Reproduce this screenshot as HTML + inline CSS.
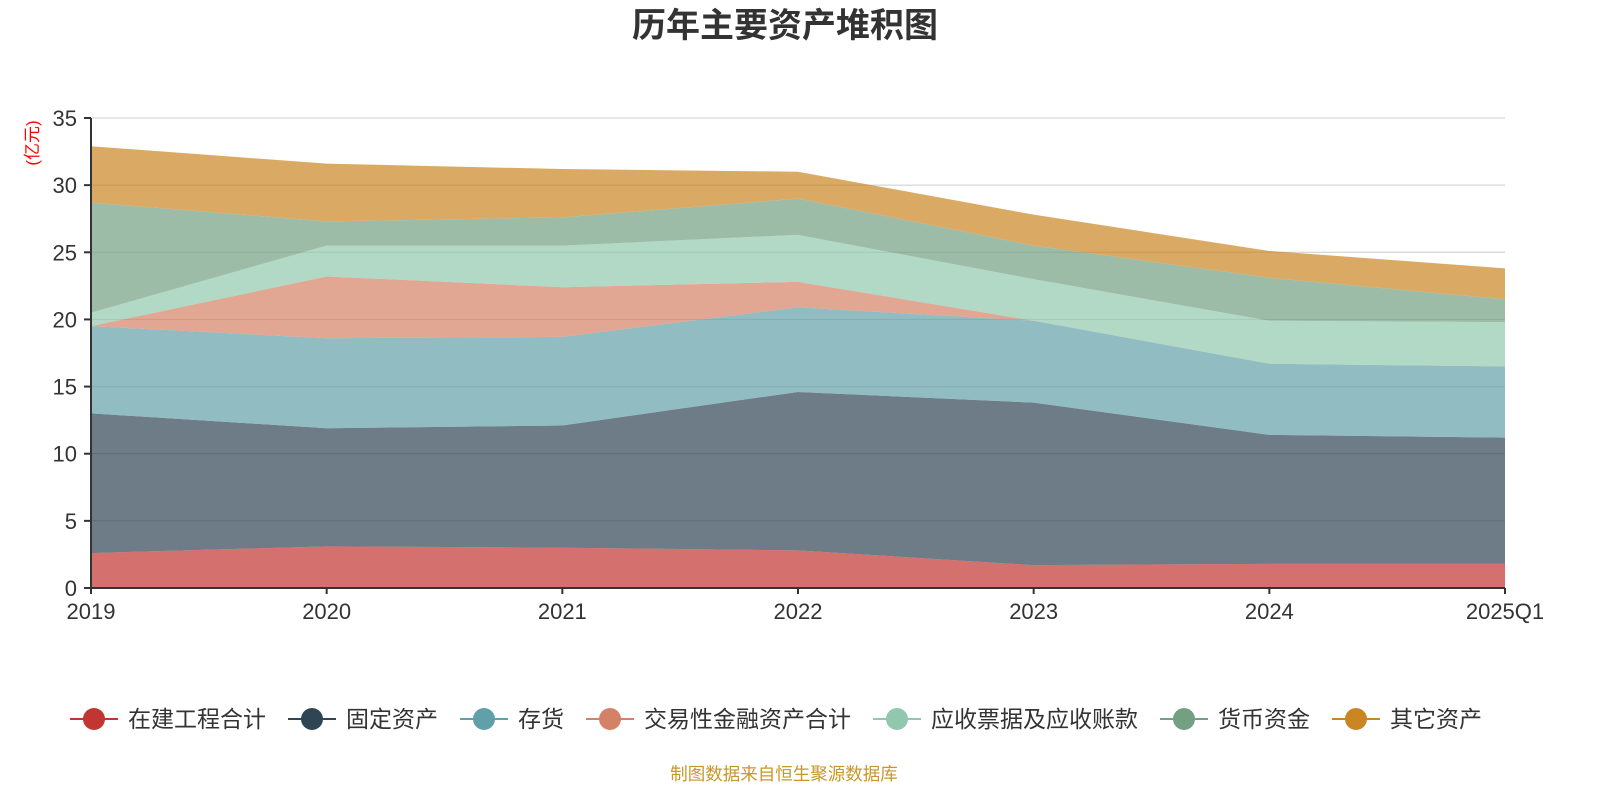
<!DOCTYPE html>
<html><head><meta charset="utf-8"><style>
body{margin:0;background:#fff;font-family:"Liberation Sans","Noto Sans CJK SC",sans-serif;}
svg text{font-family:"Liberation Sans","Noto Sans CJK SC",sans-serif;}
</style></head><body>
<svg id="c" width="1600" height="800" xmlns="http://www.w3.org/2000/svg">
<text x="785" y="37" text-anchor="middle" font-size="34" font-weight="bold" fill="#333">历年主要资产堆积图</text>
<text transform="translate(38,143) rotate(-90)" text-anchor="middle" font-size="17" fill="#ff0000">(亿元)</text>
<g id="grid"></g><g id="areas"></g><g id="axes"></g><g id="legend"></g>
<text x="784" y="780" text-anchor="middle" font-size="17.5" fill="#c8962a">制图数据来自恒生聚源数据库</text>
</svg>
<script>
const categories=["2019","2020","2021","2022","2023","2024","2025Q1"];
const seriesNames=["在建工程合计","固定资产","存货","交易性金融资产合计","应收票据及应收账款","货币资金","其它资产"];
const sConstruction=[2.6,3.1,3.0,2.8,1.7,1.8,1.8];
const sFixed=[10.4,8.8,9.1,11.8,12.1,9.6,9.4];
const sInventory=[6.5,6.7,6.6,6.3,6.1,5.3,5.3];
const sTrading=[0,4.6,3.7,1.9,0,0,0];
const sReceivable=[1.0,2.3,3.1,3.5,3.1,3.2,3.3];
const sCash=[8.2,1.8,2.1,2.7,2.5,3.2,1.7];
const sOther=[4.2,4.3,3.6,2.0,2.3,2.0,2.3];
const yTicks=[0,5,10,15,20,25,30,35];
const series=[sConstruction,sFixed,sInventory,sTrading,sReceivable,sCash,sOther];
const colors=["#c23531","#2f4554","#61a0a8","#d48265","#91c7ae","#749f83","#ca8622"];
const NS="http://www.w3.org/2000/svg";
const X0=91,X1=1505,Y0=588,Y1=118,YMAX=35;
const xs=i=>X0+(X1-X0)*i/(categories.length-1);
const ys=v=>Y0-(Y0-Y1)*v/YMAX;
function mk(t,a,p){const e=document.createElementNS(NS,t);for(const k in a)e.setAttribute(k,a[k]);p.appendChild(e);return e;}
const grid=document.getElementById('grid'),axes=document.getElementById('axes'),areas=document.getElementById('areas'),legend=document.getElementById('legend');
yTicks.forEach(t=>{
 if(t>0){const l=mk('line',{x1:X0,x2:X1,y1:ys(t),y2:ys(t),stroke:'#ccc'},grid);
 
 }
 mk('line',{x1:X0-7,x2:X0,y1:ys(t),y2:ys(t),stroke:'#333','stroke-width':2},axes);
 const tx=mk('text',{x:X0-14,y:ys(t)+8,'text-anchor':'end','font-size':22,fill:'#333'},axes);tx.textContent=t;
 
 
});
let base=categories.map(()=>0);
series.forEach((s,k)=>{
 const top=base.map((b,i)=>b+s[i]);
 let d='M'+top.map((v,i)=>xs(i)+','+ys(v)).join('L');
 for(let i=categories.length-1;i>=0;i--)d+='L'+xs(i)+','+ys(base[i]);
 const p=mk('path',{d:d+'Z',fill:colors[k],'fill-opacity':0.7},areas);
 
 
 base=top;
});
mk('line',{x1:X0,x2:X0,y1:Y1,y2:Y0,stroke:'#333','stroke-width':2},axes);
mk('line',{x1:X0,x2:X1,y1:Y0,y2:Y0,stroke:'#333','stroke-width':2},axes);
categories.forEach((c,i)=>{
 mk('line',{x1:xs(i),x2:xs(i),y1:Y0,y2:Y0+6,stroke:'#333','stroke-width':2},axes);
 const tx=mk('text',{x:xs(i),y:Y0+31,'text-anchor':'middle','font-size':22,fill:'#333'},axes);tx.textContent=c;
 
 
});
let lx=70;
seriesNames.forEach((n,k)=>{
 const g=mk('g',{},legend);
 
 
 mk('line',{x1:lx,x2:lx+48,y1:719,y2:719,stroke:colors[k],'stroke-width':2},g);
 mk('circle',{cx:lx+24,cy:719,r:11,fill:colors[k]},g);
 const t=mk('text',{x:lx+58,y:727,'font-size':23,fill:'#333'},g);t.textContent=n;
 lx+=58+n.length*23+22;
});
</script>
</body></html>
